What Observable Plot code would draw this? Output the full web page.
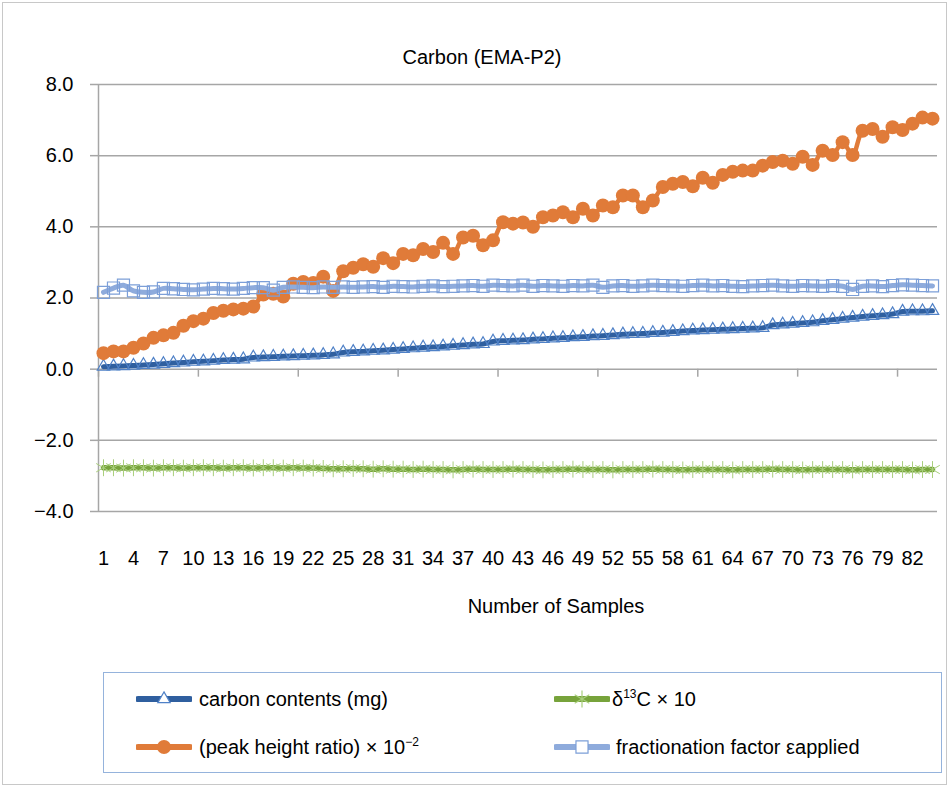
<!DOCTYPE html>
<html><head><meta charset="utf-8">
<script src="https://cdn.jsdelivr.net/npm/d3@7"></script>
<script src="https://cdn.jsdelivr.net/npm/@observablehq/plot@0.6"></script>
<style>
body{margin:0;background:#fff;font-family:"Liberation Sans",Arial,sans-serif;}
#wrap{position:relative;width:951px;height:787px;overflow:hidden;background:#fff;}
#frame{position:absolute;left:2px;top:2px;width:945px;height:783px;border:1px solid #c8c8c8;box-sizing:border-box;}
#chart{position:absolute;left:0;top:0;}
#legend{position:absolute;left:103px;top:672px;width:839px;height:101px;border:1.5px solid #95b3dc;box-sizing:border-box;}
.item{position:absolute;height:24px;display:flex;align-items:center;font-size:20px;color:#000;white-space:nowrap;}
.item svg{flex:none;}
.sup{font-size:12px;position:relative;top:-8px;}
</style></head><body>
<div id="wrap"><div id="frame"></div><div id="chart"></div><div id="legend"></div></div>
<script>
const samples = d3.range(1, 85);
const xTickLabels = [1,4,7,10,13,16,19,22,25,28,31,34,37,40,43,46,49,52,55,58,61,64,67,70,73,76,79,82];
const yTicks = [-4,-2,0,2,4,6,8];

const carbonContents = [
  0.07,0.08,0.09,0.10,0.12,0.13,0.15,0.17,0.19,0.21,
  0.22,0.24,0.26,0.27,0.28,0.33,0.34,0.35,0.36,0.37,
  0.38,0.39,0.40,0.42,0.47,0.49,0.50,0.52,0.53,0.55,
  0.57,0.59,0.61,0.62,0.64,0.66,0.68,0.70,0.71,0.78,
  0.80,0.81,0.82,0.84,0.85,0.87,0.88,0.90,0.91,0.93,
  0.94,0.96,0.98,0.99,1.00,1.02,1.03,1.05,1.07,1.09,
  1.10,1.11,1.12,1.13,1.14,1.15,1.16,1.24,1.26,1.28,
  1.30,1.32,1.36,1.39,1.42,1.45,1.48,1.50,1.52,1.55,
  1.62,1.63,1.63,1.64];
const delta13C = [
  -2.77,-2.77,-2.78,-2.77,-2.77,-2.78,-2.77,-2.77,-2.78,-2.77,
  -2.77,-2.77,-2.78,-2.77,-2.77,-2.78,-2.77,-2.77,-2.78,-2.77,
  -2.78,-2.78,-2.79,-2.80,-2.80,-2.79,-2.80,-2.81,-2.80,-2.81,
  -2.81,-2.82,-2.81,-2.82,-2.82,-2.83,-2.82,-2.81,-2.82,-2.82,
  -2.82,-2.81,-2.82,-2.82,-2.83,-2.82,-2.82,-2.81,-2.82,-2.82,
  -2.82,-2.83,-2.82,-2.82,-2.82,-2.81,-2.82,-2.82,-2.83,-2.82,
  -2.82,-2.82,-2.82,-2.83,-2.82,-2.82,-2.82,-2.81,-2.82,-2.82,
  -2.83,-2.82,-2.82,-2.82,-2.82,-2.83,-2.82,-2.82,-2.82,-2.82,
  -2.82,-2.83,-2.82,-2.82];
const peakHeightRatio = [
  0.45,0.50,0.50,0.60,0.72,0.88,0.95,1.02,1.22,1.35,
  1.42,1.58,1.64,1.68,1.70,1.76,2.10,2.12,2.04,2.40,
  2.45,2.42,2.60,2.20,2.75,2.85,2.95,2.88,3.12,2.98,
  3.24,3.20,3.38,3.29,3.55,3.24,3.70,3.75,3.48,3.62,
  4.13,4.09,4.12,4.00,4.27,4.32,4.41,4.27,4.51,4.32,
  4.60,4.55,4.88,4.88,4.55,4.74,5.12,5.21,5.26,5.14,
  5.38,5.24,5.46,5.55,5.58,5.58,5.72,5.82,5.86,5.77,
  5.97,5.74,6.14,6.02,6.38,6.02,6.70,6.75,6.53,6.80,
  6.72,6.90,7.07,7.04];
const fractionationFactor = [
  2.16,2.28,2.36,2.20,2.16,2.17,2.27,2.26,2.24,2.23,
  2.25,2.27,2.26,2.25,2.27,2.29,2.29,2.22,2.30,2.31,
  2.30,2.29,2.31,2.30,2.31,2.30,2.31,2.32,2.30,2.33,
  2.32,2.31,2.33,2.34,2.32,2.33,2.34,2.35,2.33,2.36,
  2.35,2.34,2.36,2.33,2.35,2.34,2.33,2.35,2.34,2.36,
  2.30,2.34,2.35,2.33,2.34,2.36,2.35,2.34,2.33,2.35,
  2.36,2.34,2.35,2.33,2.32,2.34,2.35,2.36,2.34,2.33,
  2.35,2.34,2.33,2.35,2.33,2.24,2.33,2.34,2.32,2.35,
  2.37,2.36,2.35,2.34];

const colors = {
  carbonLine: "#2f5f9f", carbonMark: "#4f81c7",
  deltaLine: "#77a33b", deltaMark: "#a9cf7c",
  peakLine: "#e07b39", peakMark: "#e07b39",
  fracLine: "#8eabdc", fracMark: "#7c9fd8"
};

const rows = samples.map((s, i) => ({
  sample: s,
  carbon: carbonContents[i],
  delta: delta13C[i],
  peak: peakHeightRatio[i],
  frac: fractionationFactor[i]
}));

const W = 951, H = 640, mL = 98, mR = 14, mT = 84, mB = 129;
const yMin = -4, yMax = 8;
const zeroDy = -((0 - yMin) / (yMax - yMin)) * (H - mT - mB);
const xDomain = [0.5, samples.length + 0.5];
const xTickMarks = [0.5, 10.5, 20.5, 30.5, 40.5, 50.5, 60.5, 70.5, 80.5];
const grid = "#a6a6a6";
const fmt = d => (d < 0 ? "\u2212" : "") + Math.abs(d).toFixed(1);
const curve = "catmull-rom";
const R = {triangle: 4.6, asterisk: 8, circle: 7, square: 6.8};

const plot = Plot.plot({
  width: W, height: H,
  marginLeft: mL, marginRight: mR, marginTop: mT, marginBottom: mB,
  style: {fontFamily: "'Liberation Sans', Arial, sans-serif", fontSize: "20px", color: "#000", background: "transparent"},
  x: {type: "linear", domain: xDomain, label: null},
  y: {domain: [yMin, yMax], label: null},
  marks: [
    Plot.ruleY(yTicks, {x1: xDomain[0], x2: xDomain[1], stroke: grid, strokeWidth: 1.5}),
    Plot.ruleX([xDomain[0]], {y1: yMin, y2: yMax, stroke: grid, strokeWidth: 1.5}),
    Plot.axisY({ticks: yTicks, tickSize: 8, tickPadding: 17, tickFormat: fmt, stroke: grid, fill: "#000", fontSize: 20, strokeWidth: 1.5, label: null}),
    Plot.axisX({ticks: xTickMarks, tickSize: 8, tickFormat: () => "", dy: zeroDy, stroke: grid, strokeWidth: 1.5, label: null}),
    Plot.axisX({ticks: xTickLabels, tickSize: 0, tickPadding: 39, fill: "#000", fontSize: 20, tickFormat: d => String(d), label: null}),

    Plot.line(rows, {x: "sample", y: "carbon", stroke: colors.carbonLine, strokeWidth: 5, curve}),
    Plot.dot(rows, {x: "sample", y: "carbon", symbol: "triangle", r: R.triangle, stroke: colors.carbonMark, fill: "none", strokeWidth: 1.2}),

    Plot.line(rows, {x: "sample", y: "delta", stroke: colors.deltaLine, strokeWidth: 5.5, curve}),
    Plot.dot(rows, {x: "sample", y: "delta", symbol: "asterisk", r: R.asterisk, stroke: colors.deltaMark, fill: "none", strokeWidth: 1}),

    Plot.line(rows, {x: "sample", y: "peak", stroke: colors.peakLine, strokeWidth: 4.5, curve}),
    Plot.dot(rows, {x: "sample", y: "peak", symbol: "circle", r: R.circle, fill: colors.peakMark, stroke: "none"}),

    Plot.line(rows, {x: "sample", y: "frac", stroke: colors.fracLine, strokeWidth: 5, curve}),
    Plot.dot(rows, {x: "sample", y: "frac", symbol: "square", r: R.square, stroke: colors.fracMark, fill: "none", strokeWidth: 1.2}),

    Plot.text(["Carbon (EMA-P2)"], {frameAnchor: "top", dy: -27, dx: -36, fontSize: 20, fill: "#000", lineAnchor: "middle"}),
    Plot.text(["Number of Samples"], {frameAnchor: "bottom", dy: 95, dx: 38, fontSize: 20, fill: "#000", lineAnchor: "middle"})
  ]
});
document.getElementById("chart").appendChild(plot);

// legend
const legend = document.getElementById("legend");
function swatch(kind, line, mark) {
  const ns = "http://www.w3.org/2000/svg";
  const svg = document.createElementNS(ns, "svg");
  svg.setAttribute("width", 56); svg.setAttribute("height", 24);
  const l = document.createElementNS(ns, "line");
  l.setAttribute("x1", 2); l.setAttribute("x2", 54); l.setAttribute("y1", 12); l.setAttribute("y2", 12);
  l.setAttribute("stroke", line); l.setAttribute("stroke-width", 6); l.setAttribute("stroke-linecap", "round");
  svg.appendChild(l);
  const symbols = {triangle: d3.symbolTriangle, asterisk: d3.symbolAsterisk, circle: d3.symbolCircle, square: d3.symbolSquare};
  const p = document.createElementNS(ns, "path");
  p.setAttribute("d", d3.symbol(symbols[kind], Math.PI * R[kind] * R[kind])());
  p.setAttribute("transform", "translate(28,12)");
  if (kind === "circle") { p.setAttribute("fill", mark); }
  else { p.setAttribute("fill", kind === "asterisk" ? "none" : "#fff"); p.setAttribute("stroke", mark); p.setAttribute("stroke-width", 1.2); }
  svg.appendChild(p);
  return svg;
}
const items = [
  {kind: "triangle", line: colors.carbonLine, mark: colors.carbonMark, left: 32, top: 14, html: "carbon contents (mg)", gap: 7},
  {kind: "asterisk", line: colors.deltaLine, mark: colors.deltaMark, left: 450, top: 14, html: "δ<span class='sup'>13</span>C × 10", gap: 2},
  {kind: "circle", line: colors.peakLine, mark: colors.peakMark, left: 32, top: 62, html: "(peak height ratio) × 10<span class='sup'>−2</span>", gap: 7},
  {kind: "square", line: colors.fracLine, mark: colors.fracMark, left: 450, top: 62, html: "fractionation factor εapplied", gap: 6}
];
items.forEach(it => {
  const d = document.createElement("div");
  d.className = "item";
  d.style.left = it.left + "px"; d.style.top = it.top + "px";
  d.appendChild(swatch(it.kind, it.line, it.mark));
  const s = document.createElement("span");
  s.style.marginLeft = it.gap + "px";
  s.innerHTML = it.html;
  d.appendChild(s);
  legend.appendChild(d);
});
</script>
</body></html>
